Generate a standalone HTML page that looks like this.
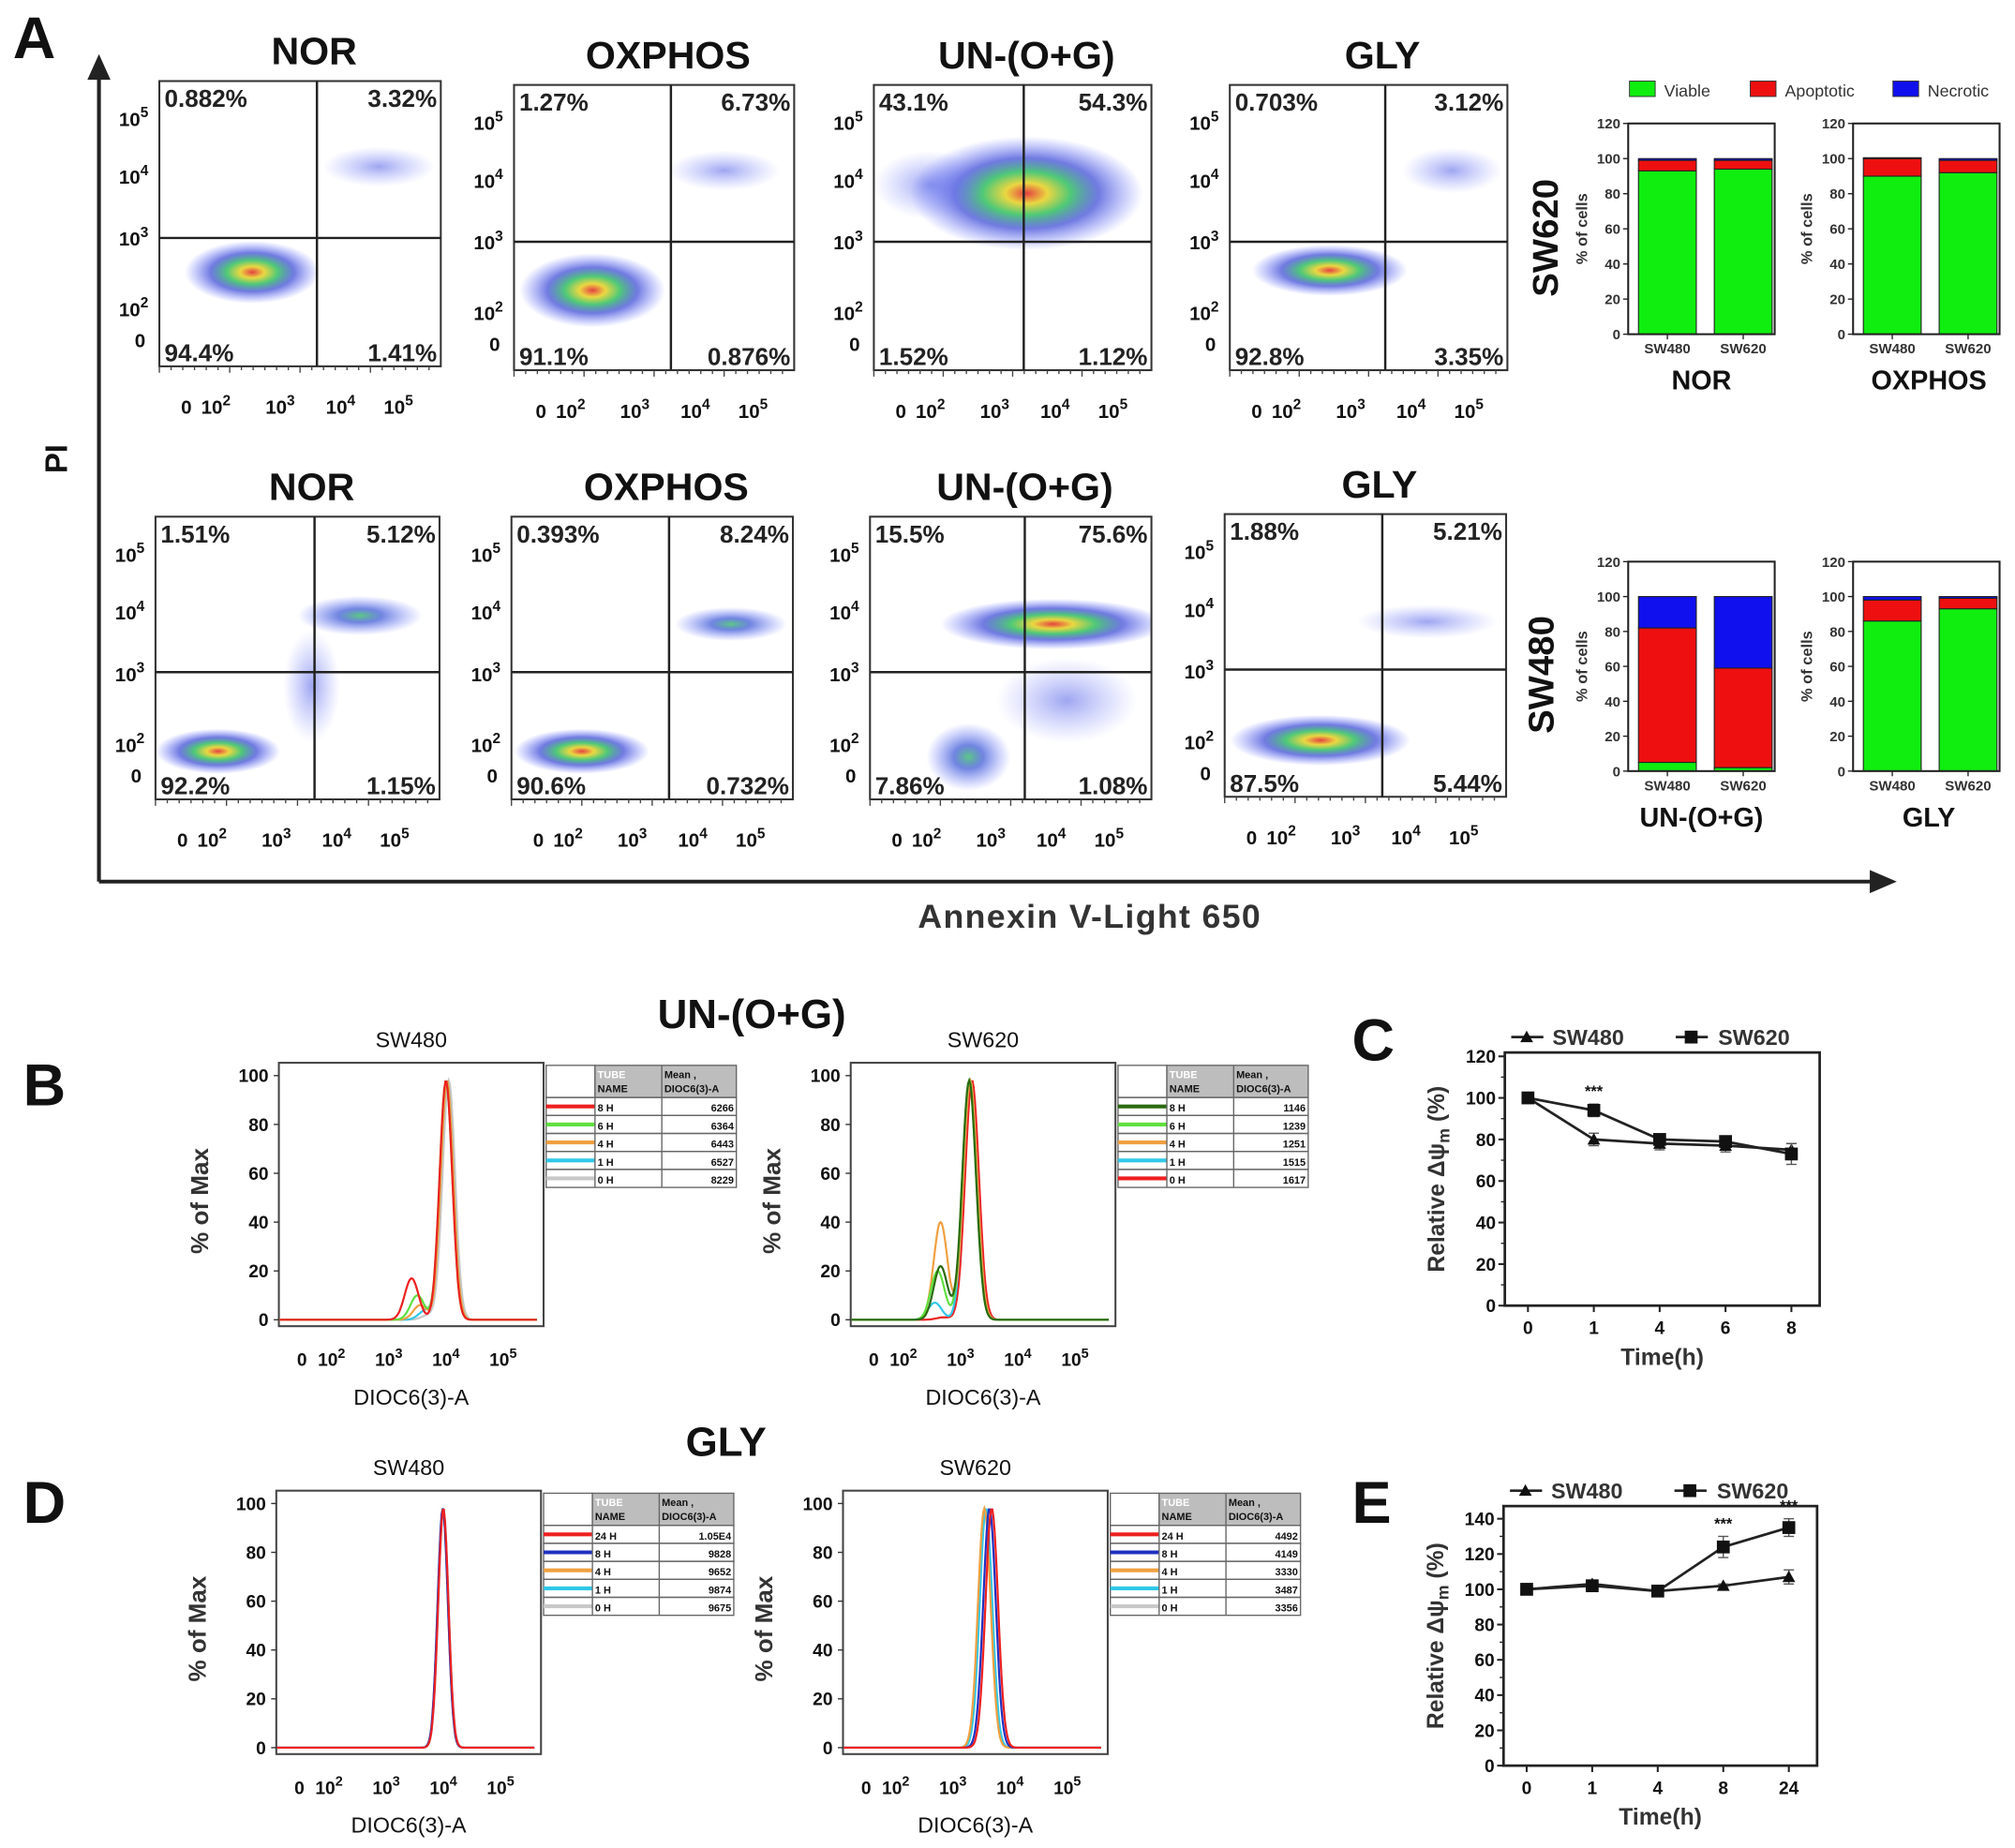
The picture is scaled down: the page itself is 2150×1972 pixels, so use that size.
<!DOCTYPE html>
<html><head><meta charset="utf-8"><style>
html,body{margin:0;padding:0;background:#fff}
svg{display:block;font-family:"Liberation Sans",Arial,sans-serif}
</style></head><body>
<svg id="fig" xmlns="http://www.w3.org/2000/svg" width="2150" height="1972" viewBox="0 0 1568 1438">
<defs>
<radialGradient id="gDense"><stop offset="0" stop-color="#e02020"/><stop offset="0.18" stop-color="#e8d020"/><stop offset="0.38" stop-color="#30c060"/><stop offset="0.62" stop-color="#2030d0" stop-opacity="0.75"/><stop offset="1" stop-color="#4050ff" stop-opacity="0"/></radialGradient>
<radialGradient id="gMed"><stop offset="0" stop-color="#40c070"/><stop offset="0.35" stop-color="#2040d0" stop-opacity="0.75"/><stop offset="1" stop-color="#5060ff" stop-opacity="0"/></radialGradient>
<radialGradient id="gFaint"><stop offset="0" stop-color="#3040e0" stop-opacity="0.55"/><stop offset="1" stop-color="#6070ff" stop-opacity="0"/></radialGradient>
</defs>
</svg>
<script>
// ---------- data ----------
const scatterTitles = ["NOR","OXPHOS","UN-(O+G)","GLY","NOR","OXPHOS","UN-(O+G)","GLY"];
const scatterTL = ["0.882%","1.27%","43.1%","0.703%","1.51%","0.393%","15.5%","1.88%"];
const scatterTR = ["3.32%","6.73%","54.3%","3.12%","5.12%","8.24%","75.6%","5.21%"];
const scatterBL = ["94.4%","91.1%","1.52%","92.8%","92.2%","90.6%","7.86%","87.5%"];
const scatterBR = ["1.41%","0.876%","1.12%","3.35%","1.15%","0.732%","1.08%","5.44%"];
// clusters: [plotIndex, xFrac, yFrac, rxFrac, ryFrac, density]
const clusters = [
 [0,0.33,0.67,0.24,0.11,"gDense"],[0,0.78,0.3,0.2,0.07,"gFaint"],
 [1,0.28,0.72,0.26,0.13,"gDense"],[1,0.75,0.3,0.2,0.07,"gFaint"],
 [2,0.55,0.38,0.42,0.2,"gDense"],[2,0.2,0.35,0.2,0.12,"gFaint"],
 [3,0.36,0.65,0.28,0.09,"gDense"],[3,0.8,0.3,0.18,0.08,"gFaint"],
 [4,0.22,0.83,0.22,0.08,"gDense"],[4,0.72,0.35,0.22,0.07,"gMed"],[4,0.55,0.6,0.1,0.2,"gFaint"],
 [5,0.25,0.83,0.24,0.08,"gDense"],[5,0.78,0.38,0.2,0.06,"gMed"],
 [6,0.65,0.38,0.4,0.09,"gDense"],[6,0.35,0.85,0.15,0.12,"gMed"],[6,0.7,0.65,0.25,0.15,"gFaint"],
 [7,0.34,0.8,0.32,0.09,"gDense"],[7,0.72,0.38,0.25,0.06,"gFaint"]
];
const barGroups = ["NOR","OXPHOS","UN-(O+G)","GLY"];
const barCats = ["SW480","SW620"];
const viable = [[93,94],[90,92],[5,2],[86,93]];
const apoptotic = [[6,5],[10,7],[77,57],[12,6]];
const necrotic = [[1,1],[0.5,1],[18,41],[2,1]];
const barTicks = [0,20,40,60,80,100,120];
// histograms: peak log10 value, shoulder [log, height]
const histTimesB1 = ["8 H","6 H","4 H","1 H","0 H"];
const histMeansB1 = ["6266","6364","6443","6527","8229"];
const histColorsB1 = ["#ee2020","#60e040","#f0a040","#30c8e8","#c8c8c8"];
const histPeakB1 = [4.0,4.0,4.02,4.02,4.05];
const histShB1 = [[3.4,17],[3.5,10],[3.55,6],[3.65,4],[3.7,2]];
const histTimesB2 = ["8 H","6 H","4 H","1 H","0 H"];
const histMeansB2 = ["1146","1239","1251","1515","1617"];
const histColorsB2 = ["#2a6a10","#60e040","#f0a040","#30c8e8","#ee2020"];
const histPeakB2 = [3.15,3.15,3.17,3.17,3.2];
const histShB2 = [[2.65,22],[2.6,20],[2.65,40],[2.55,7],[2.7,1]];
const histTimesD1 = ["24 H","8 H","4 H","1 H","0 H"];
const histMeansD1 = ["1.05E4","9828","9652","9874","9675"];
const histColorsD1 = ["#ee2020","#2030c0","#f0a040","#30c8e8","#c8c8c8"];
const histPeakD1 = [4.0,3.99,3.99,4.0,3.99];
const histShD1 = [[3.9,0],[3.9,0],[3.9,0],[3.9,0],[3.9,0]];
const histTimesD2 = ["24 H","8 H","4 H","1 H","0 H"];
const histMeansD2 = ["4492","4149","3330","3487","3356"];
const histColorsD2 = ["#ee2020","#2030c0","#f0a040","#30c8e8","#c8c8c8"];
const histPeakD2 = [3.68,3.64,3.55,3.58,3.56];
const histShD2 = [[3.4,0],[3.4,0],[3.4,0],[3.4,0],[3.4,0]];
// line charts
const cCats = ["0","1","4","6","8"];
const cSW480 = [100,80,78,77,75];
const cSW620 = [100,94,80,79,73];
const cErr480 = [1,3,3,3,3];
const cErr620 = [1,3,2,2,5];
const cTicks = [0,20,40,60,80,100,120];
const eCats = ["0","1","4","8","24"];
const eSW480 = [100,103,99,102,107];
const eSW620 = [100,102,99,124,135];
const eErr480 = [1,1,1,1,4];
const eErr620 = [1,2,1,6,5];
const eTicks = [0,20,40,60,80,100,120,140];

// ---------- helpers ----------
const svg = document.getElementById('fig');
const NS = 'http://www.w3.org/2000/svg';
function mk(tag, attrs, name, parent){
  const el = document.createElementNS(NS, tag);
  for (const k in attrs) el.setAttribute(k, attrs[k]);
  
  
  (parent||svg).appendChild(el);
  return el;
}
function txt(x,y,s,size,name,opt){
  opt=opt||{};
  const t = mk('text',{x:x,y:y,'font-size':size,'font-weight':opt.w||'bold','text-anchor':opt.a||'start',fill:opt.fill||'#111'},name,opt.p);
  if(opt.rot!==undefined) t.setAttribute('transform','rotate('+opt.rot+' '+x+' '+y+')');
  if(opt.ls) t.setAttribute('letter-spacing',opt.ls);
  t.textContent=s; return t;
}
function pow(x,y,exp,size,name,p){
  const t = mk('text',{x:x,y:y,'font-size':size,'font-weight':'bold','text-anchor':'middle',fill:'#111'},name,p);
  const a=document.createElementNS(NS,'tspan'); a.textContent='10'; t.appendChild(a);
  const b=document.createElementNS(NS,'tspan'); b.setAttribute('dy',-size*0.45); b.setAttribute('font-size',size*0.75); b.textContent=exp; t.appendChild(b);
}
function line(x1,y1,x2,y2,name,w,c,p){return mk('line',{x1:x1,y1:y1,x2:x2,y2:y2,stroke:c||'#222','stroke-width':w||1.5},name,p);}

// ---------- panel letters & global ----------
txt(10,45,"A",46,"panel-a-label");
txt(18,860,"B",46,"panel-b-label");
txt(1052,825,"C",46,"panel-c-label");
txt(18,1185,"D",46,"panel-d-label");
txt(1052,1185,"E",46,"panel-e-label");
line(77,686,77,58,"pi-axis-line",3);
mk('polygon',{points:"68,62 77,42 86,62",fill:'#222'},"pi-axis-arrow");
line(77,686,1458,686,"annexin-axis-line",3);
mk('polygon',{points:"1455,677 1476,686 1455,695",fill:'#222'},"annexin-axis-arrow");
txt(52,357,"PI",24,"pi-axis-title",{a:'middle',rot:-90});
txt(848,722,"Annexin V-Light 650",26,"annexin-axis-title",{a:'middle',ls:1,fill:'#333'});

// ---------- scatter plots ----------
const boxes=[[124,63,219,222],[400,66,218,222],[680,66,216,222],[957,66,216,222],
             [121,402,221,220],[398,402,219,220],[677,402,219,220],[953,400,219,220]];
const qv=[0.56,0.56,0.54,0.56,0.56,0.56,0.55,0.56], qh=[0.55,0.55,0.55,0.55,0.55,0.55,0.55,0.55];
boxes.forEach((b,i)=>{
  const g=mk('g',{},'scatter-plot-'+(i+1));
  const [x,y,w,h]=b;
  txt(x+w*0.55,y-13,scatterTitles[i],30,'scatter-title',{a:'middle',w:'bold',p:g});
  const cp=mk('clipPath',{id:'cp'+i},'clip',g);
  mk('rect',{x:x,y:y,width:w,height:h},'clip-rect',cp);
  const cg=mk('g',{'clip-path':'url(#cp'+i+')',opacity:0.85},'density-cloud',g);
  clusters.filter(c=>c[0]===i).forEach(c=>{
    mk('ellipse',{cx:x+c[1]*w,cy:y+c[2]*h,rx:c[3]*w,ry:c[4]*h,fill:'url(#'+c[5]+')'},'cell-cluster',cg);
  });
  mk('rect',{x:x,y:y,width:w,height:h,fill:'none',stroke:'#333','stroke-width':1.5},'plot-frame',g);
  line(x+qv[i]*w,y,x+qv[i]*w,y+h,'quadrant-vline',1.8,'#222',g);
  line(x,y+qh[i]*h,x+w,y+qh[i]*h,'quadrant-hline',1.8,'#222',g);
  txt(x+4,y+20,scatterTL[i],19,'pct-upper-left',{w:'bold',p:g,fill:'#222'});
  txt(x+w-3,y+20,scatterTR[i],19,'pct-upper-right',{w:'bold',a:'end',p:g,fill:'#222'});
  txt(x+4,y+h-4,scatterBL[i],19,'pct-lower-left',{w:'bold',p:g,fill:'#222'});
  txt(x+w-3,y+h-4,scatterBR[i],19,'pct-lower-right',{w:'bold',a:'end',p:g,fill:'#222'});
  const yo=[29,74,122,177];
  ['5','4','3','2'].forEach((e,k)=>pow(x-20,y+yo[k]+6,e,15,'y-tick-label',g));
  txt(x-15,y+207,'0',15,'y-tick-label',{a:'middle',p:g});
  const xo=[44,94,141,186];
  txt(x+21,y+h+37,'0',15,'x-tick-label',{a:'middle',p:g});
  ['2','3','4','5'].forEach((e,k)=>pow(x+xo[k],y+h+37,e,15,'x-tick-label',g));
  for(let k=0;k<24;k++){line(x+k*w/24,y+h,x+k*w/24,y+h+(k%6==0?5:3),'x-minor-tick',1,'#444',g);}
});

// ---------- stacked bar charts ----------
const barBoxes=[[1267,96,114,164],[1442,96,114,164],[1267,437,114,163],[1442,437,114,163]];
barBoxes.forEach((b,gi)=>{
  const g=mk('g',{},'stacked-bar-chart-'+barGroups[gi].toLowerCase());
  const [x,y,w,h]=b;
  const ys=v=>y+h-v/120*h;
  barCats.forEach((c,ci)=>{
    const bx=x+8+ci*59, bw=45;
    const v=viable[gi][ci], a=apoptotic[gi][ci], n=necrotic[gi][ci];
    mk('rect',{x:bx,y:ys(v),width:bw,height:ys(0)-ys(v),fill:'#10ee10',stroke:'#222','stroke-width':0.8},'bar-viable-'+c,g);
    mk('rect',{x:bx,y:ys(v+a),width:bw,height:ys(v)-ys(v+a),fill:'#ee1010',stroke:'#222','stroke-width':0.8},'bar-apoptotic-'+c,g);
    mk('rect',{x:bx,y:ys(v+a+n),width:bw,height:ys(v+a)-ys(v+a+n),fill:'#1010ee',stroke:'#222','stroke-width':0.8},'bar-necrotic-'+c,g);
    txt(bx+bw/2,y+h+15,c,11,'x-tick-label',{a:'middle',p:g,fill:'#333'});
    line(bx+bw/2,y+h,bx+bw/2,y+h+4,'x-tick',1,'#222',g);
  });
  mk('rect',{x:x,y:y,width:w,height:h,fill:'none',stroke:'#222','stroke-width':1.5},'bar-chart-frame',g);
  barTicks.forEach(t=>{line(x-4,ys(t),x,ys(t),'y-tick',1,'#222',g);txt(x-6,ys(t)+4,String(t),11,'y-tick-label',{a:'end',p:g,fill:'#333'});});
  txt(x-32,y+h/2,'% of cells',12,'y-axis-title',{a:'middle',rot:-90,p:g,fill:'#333'});
  txt(x+w/2+(gi%2?2:0),y+h+43,barGroups[gi],21,'bar-group-label',{a:'middle',p:g});
});
txt(1212,185,'SW620',28,'row-label-sw620',{a:'middle',rot:-90});
txt(1209,525,'SW480',28,'row-label-sw480',{a:'middle',rot:-90});
[['#10ee10','Viable',1268],['#ee1010','Apoptotic',1362],['#1010ee','Necrotic',1473]].forEach(l=>{
  const g=mk('g',{},'legend-entry-'+l[1].toLowerCase());
  mk('rect',{x:l[2],y:63,width:20,height:12,fill:l[0],stroke:'#333','stroke-width':0.7},'legend-swatch',g);
  txt(l[2]+27,75,l[1],13,'legend-text',{w:'normal',p:g,fill:'#333'});
});

// ---------- histograms ----------
txt(585,800,'UN-(O+G)',32,'section-title-un',{a:'middle'});
txt(565,1133,'GLY',32,'section-title-gly',{a:'middle'});
function hist(bx,by,title,times,means,colors,peaks,sh,sig,nm){
  const g=mk('g',{},nm);
  const w=206,h=205;
  const xs=l=>bx+41+(l-2)*44.5;
  const ys=v=>by+h-5-v/100*(h-15);
  txt(bx+w/2,by-12,title,17,'hist-title',{a:'middle',w:'normal',p:g});
  mk('rect',{x:bx,y:by,width:w,height:h,fill:'#fff',stroke:'#444','stroke-width':1.5},'hist-frame',g);
  for(let i=times.length-1;i>=0;i--){
    let d='';
    for(let l=1.09;l<=5.6;l+=0.02){
      let v=Math.exp(-Math.pow((l-peaks[i])/sig,2)/2)*98+sh[i][1]*Math.exp(-Math.pow((l-sh[i][0])/0.12,2)/2);
      v=Math.min(v,100);
      d+=(d?'L':'M')+xs(l).toFixed(1)+','+ys(v).toFixed(1);
    }
    mk('path',{d:d,fill:'none',stroke:colors[i],'stroke-width':1.6},'hist-curve-'+times[i].replace(' ','').toLowerCase(),g);
  }
  [0,20,40,60,80,100].forEach(t=>{line(bx-4,ys(t),bx,ys(t),'y-tick',1,'#333',g);txt(bx-8,ys(t)+5,String(t),14,'y-tick-label',{a:'end',p:g});});
  txt(bx-55,by+h/2+5,'% of Max',19,'y-axis-title',{a:'middle',rot:-90,p:g,fill:'#333'});
  txt(bx+18,by+h+31,'0',14,'x-tick-label',{a:'middle',p:g});
  ['2','3','4','5'].forEach((e,k)=>pow(xs(k+2),by+h+31,e,14,'x-tick-label',g));
  txt(bx+w/2,by+h+61,'DIOC6(3)-A',17,'x-axis-title',{a:'middle',w:'normal',p:g});
  const tx=bx+w+2, ty=by+2, cw=[38,52,58];
  const tg=mk('g',{},'hist-legend-table',g);
  mk('rect',{x:tx,y:ty,width:cw[0],height:25,fill:'#fff',stroke:'#666','stroke-width':1},'table-blank',tg);
  mk('rect',{x:tx+cw[0],y:ty,width:cw[1]+cw[2],height:25,fill:'#bdbdbd',stroke:'#666','stroke-width':1},'table-header',tg);
  line(tx+cw[0]+cw[1],ty,tx+cw[0]+cw[1],ty+25+14*5,'table-col-line',1,'#666',tg);
  txt(tx+cw[0]+2,ty+10,'TUBE',8,'table-header-text',{p:tg,fill:'#fff'});
  txt(tx+cw[0]+2,ty+21,'NAME',8,'table-header-text',{p:tg});
  txt(tx+cw[0]+cw[1]+2,ty+10,'Mean ,',8,'table-header-text',{p:tg});
  txt(tx+cw[0]+cw[1]+2,ty+21,'DIOC6(3)-A',8,'table-header-text',{p:tg});
  times.forEach((t,i)=>{
    const ry=ty+25+i*14;
    mk('rect',{x:tx,y:ry,width:cw[0]+cw[1]+cw[2],height:14,fill:'none',stroke:'#666','stroke-width':1},'table-row',tg);
    line(tx,ry+7,tx+cw[0],ry+7,'table-swatch',3,colors[i],tg);
    line(tx+cw[0],ry,tx+cw[0],ry+14,'table-col-line',1,'#666',tg);
    txt(tx+cw[0]+2,ry+11,t,8,'table-time',{p:tg});
    txt(tx+cw[0]+cw[1]+cw[2]-2,ry+11,means[i],8,'table-mean',{a:'end',p:tg});
  });
}
hist(217,827,'SW480',histTimesB1,histMeansB1,histColorsB1,histPeakB1,histShB1,0.11,'histogram-b-sw480');
hist(662,827,'SW620',histTimesB2,histMeansB2,histColorsB2,histPeakB2,histShB2,0.12,'histogram-b-sw620');
hist(215,1160,'SW480',histTimesD1,histMeansD1,histColorsD1,histPeakD1,histShD1,0.09,'histogram-d-sw480');
hist(656,1160,'SW620',histTimesD2,histMeansD2,histColorsD2,histPeakD2,histShD2,0.11,'histogram-d-sw620');

// ---------- line charts ----------
function lineChart(x,y,w,h,ymax,ticks,cats,s1,s2,e1,e2,stars,nm){
  const g=mk('g',{},nm);
  const ys=v=>y+h-v/ymax*(h-3);
  const xs=i=>x+18+i*(w-40)/(cats.length-1);
  mk('rect',{x:x,y:y,width:w,height:h,fill:'none',stroke:'#222','stroke-width':2},'line-chart-frame',g);
  ticks.forEach(t=>{line(x-5,ys(t),x,ys(t),'y-tick',1.5,'#222',g);txt(x-7,ys(t)+5,String(t),14,'y-tick-label',{a:'end',p:g});});
  for(let k=0;k<ticks.length-1;k++) line(x-3,(ys(ticks[k])+ys(ticks[k+1]))/2,x,(ys(ticks[k])+ys(ticks[k+1]))/2,'y-minor-tick',1,'#222',g);
  cats.forEach((c,i)=>{line(xs(i),y+h,xs(i),y+h+5,'x-tick',1.5,'#222',g);txt(xs(i),y+h+22,c,14,'x-tick-label',{a:'middle',p:g});});
  txt(x+w/2,y+h+46,'Time(h)',18,'x-axis-title',{a:'middle',p:g,fill:'#333'});
  const yt=mk('text',{x:x-47,y:y+h/2,'font-size':18,'font-weight':'bold','text-anchor':'middle',fill:'#333',transform:'rotate(-90 '+(x-47)+' '+(y+h/2)+')'},'y-axis-title',g);
  yt.innerHTML='Relative Δψ<tspan font-size="13" dy="4">m</tspan><tspan dy="-4"> (%)</tspan>';
  [[s1,e1,'sw480','tri'],[s2,e2,'sw620','sq']].forEach(s=>{
    let d='';
    s[0].forEach((v,i)=>{d+=(i?'L':'M')+xs(i)+','+ys(v);});
    mk('path',{d:d,fill:'none',stroke:'#222','stroke-width':2},'series-line-'+s[2],g);
    s[0].forEach((v,i)=>{
      line(xs(i),ys(v+s[1][i]),xs(i),ys(v-s[1][i]),'error-bar',1,'#555',g);
      line(xs(i)-4,ys(v+s[1][i]),xs(i)+4,ys(v+s[1][i]),'error-cap',1,'#555',g);
      line(xs(i)-4,ys(v-s[1][i]),xs(i)+4,ys(v-s[1][i]),'error-cap',1,'#555',g);
      if(s[3]==='sq') mk('rect',{x:xs(i)-5,y:ys(v)-5,width:10,height:10,fill:'#111'},'point-'+s[2],g);
      else mk('polygon',{points:(xs(i)-5)+','+(ys(v)+4)+' '+xs(i)+','+(ys(v)-5)+' '+(xs(i)+5)+','+(ys(v)+4),fill:'#111'},'point-'+s[2],g);
    });
  });
  stars.forEach(i=>txt(xs(i),ys(Math.max(s1[i],s2[i])+e2[i])-6,'***',12,'significance-marker',{a:'middle',p:g}));
  const ly=y-12;
  const lg1=mk('g',{},'legend-entry-sw480',g);
  line(x+5,ly,x+30,ly,'legend-line',2,'#222',lg1);
  mk('polygon',{points:(x+12)+','+(ly+4)+' '+(x+17)+','+(ly-5)+' '+(x+22)+','+(ly+4),fill:'#111'},'legend-marker',lg1);
  txt(x+37,ly+6,'SW480',17,'legend-text',{p:lg1,fill:'#333'});
  const lg2=mk('g',{},'legend-entry-sw620',g);
  line(x+133,ly,x+158,ly,'legend-line',2,'#222',lg2);
  mk('rect',{x:x+140,y:ly-5,width:10,height:10,fill:'#111'},'legend-marker',lg2);
  txt(x+166,ly+6,'SW620',17,'legend-text',{p:lg2,fill:'#333'});
}
lineChart(1171,819,245,197,120,cTicks,cCats,cSW480,cSW620,cErr480,cErr620,[1],'line-chart-c');
lineChart(1170,1172,244,202,145,eTicks,eCats,eSW480,eSW620,eErr480,eErr620,[3,4],'line-chart-e');
</script>
</body></html>
